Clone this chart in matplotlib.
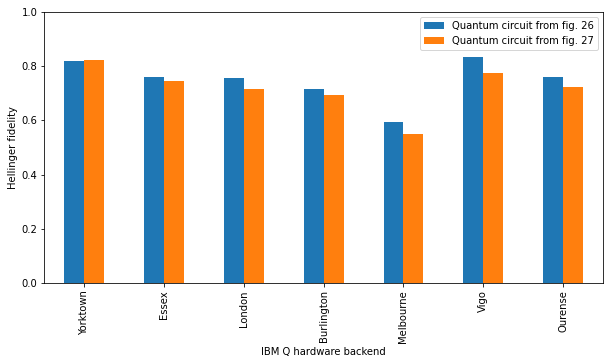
import matplotlib
matplotlib.use("Agg")
import matplotlib.pyplot as plt
import numpy as np

backends = ["Yorktown", "Essex", "London", "Burlington", "Melbourne", "Vigo", "Ourense"]
fig26 = [0.818, 0.760, 0.756, 0.715, 0.595, 0.833, 0.760]
fig27 = [0.822, 0.745, 0.715, 0.693, 0.550, 0.774, 0.723]

DPI = 72
fig = plt.figure(figsize=(609 / DPI, 364 / DPI), dpi=DPI)
ax = fig.add_axes([0.073, 0.222, 0.917, 0.746])
x = np.arange(len(backends))
w = 0.25
ax.bar(x - w / 2, fig26, width=w, color="#1f77b4", label="Quantum circuit from fig. 26")
ax.bar(x + w / 2, fig27, width=w, color="#ff7f0e", label="Quantum circuit from fig. 27")
ax.set_xlim(-0.5, len(backends) - 0.5)
ax.set_ylim(0, 1.0)
ax.set_xticks(x)
ax.set_xticklabels(backends, rotation=90)
ax.set_xlabel("IBM Q hardware backend")
ax.set_ylabel("Hellinger fidelity")
ax.legend(loc="upper right")
fig.savefig("out.png", dpi=DPI)
